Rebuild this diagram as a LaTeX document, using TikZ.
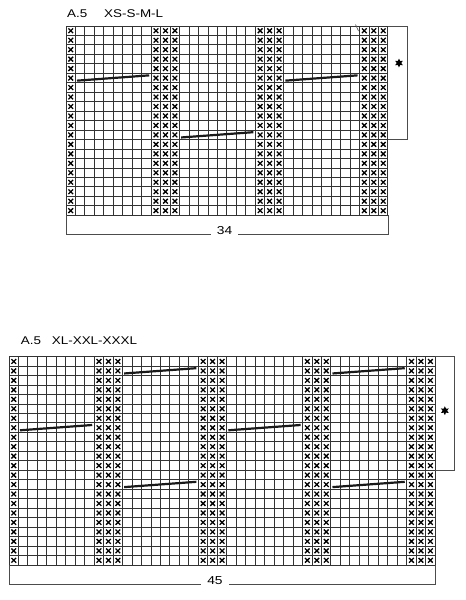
\documentclass[tikz,border=0pt]{standalone}
\usepackage{fontspec}
\setmainfont{Liberation Sans}[FakeStretch=1.2]
\usetikzlibrary{shapes.geometric, positioning}

\newcommand{\cw}{9.47}

\begin{document}
\begin{tikzpicture}[
    x=1pt, y=-1pt,
    gridline/.style={draw=black!80, line width=1pt},
    frame/.style={draw=black!70, line width=0.9pt},
    cross/.style={draw=black, line width=1.3pt},
    cable/.style={draw=black!90, line width=2.2pt},
    title/.style={font=\fontsize{11.2}{13}\selectfont, anchor=base west, inner sep=0pt},
    count/.style={font=\fontsize{11.5}{13}\selectfont, anchor=base, fill=white, inner xsep=6pt, inner ysep=1.5pt},
    repmark/.style={star, star points=6, star point ratio=2, fill=black, minimum size=9pt, inner sep=0pt}
]
\useasboundingbox (0,0) rectangle (466,600);

% Chart A.5, sizes XS-S-M-L
\node[title] (a5small) at (67,17.3) {A.5};
\node[title] (sizesmall) at (104,17.3) {XS-S-M-L};

\begin{scope}[shift={(66,26)}]
  \foreach \i in {0,...,34} \draw[gridline] (\i*\cw,0) -- (\i*\cw,20*\cw);
  \foreach \j in {0,...,20} \draw[gridline] (0,\j*\cw) -- (34*\cw,\j*\cw);
  % purl stitches
  \foreach \c in {1,10,11,12,21,22,23,32,33,34}
    \foreach \r in {1,...,20}
      \draw[cross] ({(\c-1)*\cw+2.4},{(\r-1)*\cw+2.4}) -- ++(4.7,4.7)
                   ({(\c-1)*\cw+2.4},{\r*\cw-2.4}) -- ++(4.7,-4.7);
  % cables
  \foreach \r/\a/\b in {6/2/9, 6/24/31, 12/13/20}
    \draw[cable] ({(\a-1)*\cw+1.5},{(\r-1)*\cw+7.3}) -- ({\b*\cw-2},{(\r-1)*\cw+2});
  \draw[frame, line width=0.6pt] (289.5,-1.5) -- (292.5,5);
  % repeat bracket
  \draw[frame] (34*\cw,0) -- ++(19,0) -- ++(0,12*\cw) -- ++(-19,0);
  \node[repmark] (starsmall) at ({34*\cw+11},37) {};
  % width
  \draw[frame] (0,20*\cw) -- ++(0,19) -- ++(34*\cw,0) -- ++(0,-19);
  \node[count] (widthsmall) at (158.5,{20*\cw+19}) {34};
\end{scope}

% Chart A.5, sizes XL-XXL-XXXL
\node[title] (a5large) at (20.7,344) {A.5};
\node[title] (sizelarge) at (51.7,344) {XL-XXL-XXXL};

\begin{scope}[shift={(9,356.7)}]
  \foreach \i in {0,...,45} \draw[gridline] (\i*\cw,0) -- (\i*\cw,22*\cw);
  \foreach \j in {0,...,22} \draw[gridline] (0,\j*\cw) -- (45*\cw,\j*\cw);
  % purl stitches
  \foreach \c in {1,10,11,12,21,22,23,32,33,34,43,44,45}
    \foreach \r in {1,...,22}
      \draw[cross] ({(\c-1)*\cw+2.4},{(\r-1)*\cw+2.4}) -- ++(4.7,4.7)
                   ({(\c-1)*\cw+2.4},{\r*\cw-2.4}) -- ++(4.7,-4.7);
  % cables
  \foreach \r/\a/\b in {2/13/20, 2/35/42, 8/2/9, 8/24/31, 14/13/20, 14/35/42}
    \draw[cable] ({(\a-1)*\cw+1.5},{(\r-1)*\cw+7.3}) -- ({\b*\cw-2},{(\r-1)*\cw+2});
  % repeat bracket
  \draw[frame] (45*\cw,0) -- ++(19,0) -- ++(0,12*\cw) -- ++(-19,0);
  \node[repmark] (starlarge) at ({45*\cw+9.7},54) {};
  % width
  \draw[frame] (0,22*\cw) -- ++(0,19) -- ++(45*\cw,0) -- ++(0,-19);
  \node[count] (widthlarge) at (206,{22*\cw+19}) {45};
\end{scope}

\end{tikzpicture}
\end{document}
